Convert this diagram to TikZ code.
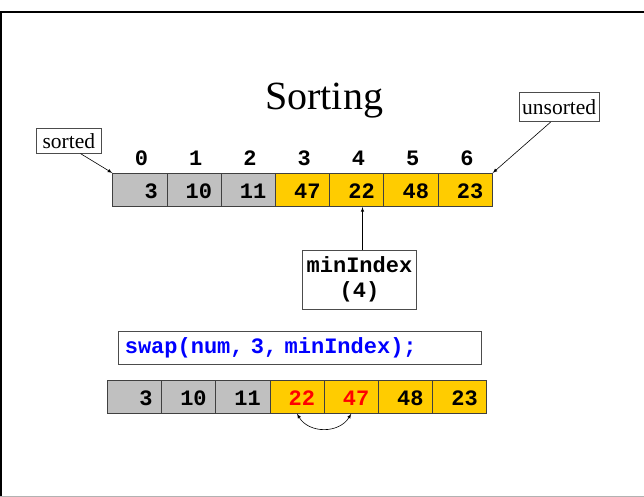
\documentclass[tikz,border=0pt]{standalone}
\usepackage{fontspec}
\setmainfont{Liberation Serif}
\setmonofont{Liberation Mono}
\definecolor{sortgray}{HTML}{C0C0C0}
\definecolor{unsortyel}{HTML}{FFCC00}
\definecolor{codeblue}{HTML}{0000FF}

\begin{document}
\begin{tikzpicture}[x=1pt,y=-1pt,
    every node/.style={font=\fontsize{21.5}{25}\selectfont},
    code/.style={font=\fontsize{22}{25}\selectfont\ttfamily\bfseries},
    cell/.style={code,draw=black!75,line width=.8pt,minimum height=33.3pt,
      inner xsep=9pt,inner ysep=0pt,text width=36.2pt,align=right,
      text height=17pt,text depth=0pt},
    idx/.style={code,inner sep=0pt,text height=13pt,text depth=0pt},
    tag/.style={draw=black!70,line width=.8pt,inner sep=0pt},
    ptr/.style={-latex,line width=.6pt}]
    \useasboundingbox (0,0) rectangle (644,497);
    % slide frame
    \draw[line width=2pt] (0,12.3) -- (644,12.3);
    \draw[line width=2pt] (1,12.3) -- (1,497);
    \draw[gray!60,line width=1.2pt] (0,496.2) -- (644,496.2);

    \node[font=\fontsize{40}{48}\selectfont,anchor=base] (title) at (324.2,109.3) {Sorting};

    % array before the swap
    \foreach \v/\c [count=\i from 0] in {3/sortgray,10/sortgray,11/sortgray,
        47/unsortyel,22/unsortyel,48/unsortyel,23/unsortyel}{
      \node[cell,fill=\c] (top\i) at (139.8+54.23*\i,190) {\v};
      \node[idx] (idx\i) at (141.5+54.23*\i,158.7) {\i};
    }
    \node[tag,minimum width=64.3pt,minimum height=25pt] (sorted) at (68.9,140.7) {sorted};
    \node[tag,minimum width=80.3pt,minimum height=29pt] (unsorted) at (559.2,107.2) {unsorted};
    \draw[ptr] (sorted.-48) -- (top0.north west);
    \draw[ptr] (unsorted.-120) -- (top6.north east);

    \node[tag,code,minimum width=114.4pt,minimum height=59pt,align=center]
        (minidx) at (359.5,279.5) {minIndex\\(4)};
    \coordinate (m) at ([xshift=3pt]minidx.north);
    \draw[ptr] (m) -- (m |- top4.south);

    \node[tag,code,minimum height=32.6pt,text width=350.4pt,inner xsep=6.5pt,
        align=left,text=codeblue] (call) at (300,348) {swap(num, 3, minIndex);};

    % array after the swap
    \foreach \v/\c/\t [count=\i from 0] in {3/sortgray/black,10/sortgray/black,
        11/sortgray/black,22/unsortyel/red,47/unsortyel/red,48/unsortyel/black,
        23/unsortyel/black}
      \node[cell,fill=\c,text=\t] (bot\i) at (134.4+54.2*\i,396.7) {\v};
    \draw[latex-latex,line width=.6pt] (bot3.south) .. controls +(12,20) and +(-12,20) .. (bot4.south);
\end{tikzpicture}
\end{document}
